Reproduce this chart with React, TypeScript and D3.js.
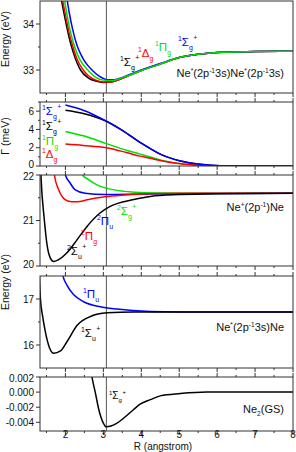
import React from 'react';
import * as d3 from 'd3';

const W = 296;
const H = 452;
const FONT = 'Liberation Sans, Arial, Helvetica, sans-serif';

const R_DOMAIN = [1.33, 8];
const R_TICKS = [2, 3, 4, 5, 6, 7, 8];
const R_MINOR = [1.5, 2.5, 3.5, 4.5, 5.5, 6.5, 7.5];
const R_EQ = 3.08;

// panel 1 : Ne*(2p-1 3s)Ne*(2p-1 3s) potentials (eV)
const p1Black = [[1.85, 34.75], [1.9, 34.5], [2.0, 34.08], [2.1, 33.7], [2.2, 33.4], [2.3, 33.17], [2.4, 33.0], [2.6, 32.83], [2.8, 32.76], [3.0, 32.73], [3.2, 32.74], [3.5, 32.82], [4.0, 32.99], [4.5, 33.13], [5.0, 33.27], [5.5, 33.34], [6.0, 33.38], [7.0, 33.4], [8.0, 33.41]];
const p1Red = [[1.88, 34.75], [1.93, 34.5], [2.0, 34.2], [2.1, 33.8], [2.2, 33.5], [2.3, 33.25], [2.47, 33.0], [2.6, 32.88], [2.8, 32.78], [3.0, 32.74], [3.2, 32.74], [3.5, 32.82], [4.0, 32.99], [4.5, 33.13], [5.0, 33.27], [5.5, 33.34], [6.0, 33.38], [7.0, 33.4], [8.0, 33.41]];
const p1Green = [[1.93, 34.75], [1.98, 34.5], [2.1, 33.95], [2.2, 33.62], [2.3, 33.37], [2.4, 33.2], [2.59, 33.0], [2.8, 32.84], [3.0, 32.78], [3.2, 32.77], [3.5, 32.83], [4.0, 32.99], [4.5, 33.13], [5.0, 33.27], [5.5, 33.34], [6.0, 33.38], [7.0, 33.4], [8.0, 33.41]];
const p1Blue = [[2.0, 34.75], [2.05, 34.5], [2.1, 34.25], [2.2, 33.85], [2.3, 33.55], [2.4, 33.35], [2.5, 33.2], [2.7, 33.0], [2.9, 32.86], [3.1, 32.79], [3.3, 32.79], [3.5, 32.84], [4.0, 33.0], [4.5, 33.14], [5.0, 33.27], [5.5, 33.34], [6.0, 33.38], [7.0, 33.4], [8.0, 33.41]];

// panel 2 : widths Gamma (meV)
const p2Blue = [[2.0, 6.67], [2.47, 6.1], [3.08, 4.9], [3.5, 3.9], [4.0, 2.5], [4.24, 1.9], [4.5, 1.3], [5.03, 0.55], [5.55, 0.19], [6.08, 0.03], [7.0, 0], [8.0, 0]];
const p2Black = [[2.0, 6.1], [2.47, 5.75], [3.08, 4.9], [3.5, 3.9], [4.0, 2.5], [4.24, 1.9], [4.5, 1.3], [5.03, 0.55], [5.55, 0.19], [6.08, 0.03], [7.0, 0], [8.0, 0]];
const p2Green = [[2.0, 3.78], [2.47, 3.3], [3.08, 2.45], [3.63, 1.7], [3.97, 1.3], [4.24, 0.98], [4.5, 0.65], [5.03, 0.26], [5.55, 0.08], [6.08, 0.01], [7.0, 0], [8.0, 0]];
const p2Red = [[2.0, 2.4], [2.47, 2.25], [3.08, 2.0], [3.63, 1.45], [3.97, 1.08], [4.24, 0.84], [4.5, 0.6], [5.03, 0.24], [5.55, 0.07], [6.08, 0.01], [7.0, 0], [8.0, 0]];

// panel 3 : Ne+(2p-1)Ne potentials (eV)
const p3Black = [[1.34, 22.3], [1.36, 21.9], [1.44, 21.05], [1.52, 20.44], [1.6, 20.18], [1.69, 20.1], [1.8, 20.13], [2.04, 20.29], [2.31, 20.58], [2.57, 20.87], [2.92, 21.17], [3.18, 21.31], [3.8, 21.46], [4.24, 21.53], [5.0, 21.57], [6.0, 21.59], [8.0, 21.6]];
const p3Red = [[1.68, 22.2], [1.71, 22.0], [1.82, 21.68], [1.99, 21.46], [2.17, 21.41], [2.31, 21.41], [2.61, 21.46], [3.04, 21.52], [3.57, 21.56], [4.18, 21.59], [5.0, 21.6], [8.0, 21.6]];
const p3Blue = [[1.97, 22.2], [2.0, 22.0], [2.12, 21.83], [2.25, 21.68], [2.52, 21.6], [3.04, 21.57], [4.0, 21.58], [5.0, 21.59], [8.0, 21.6]];
const p3Green = [[2.4, 22.2], [2.45, 22.0], [2.61, 21.9], [2.82, 21.79], [3.13, 21.7], [3.57, 21.64], [4.1, 21.61], [5.0, 21.6], [8.0, 21.6]];

// panel 4 : Ne*(2p-1 3s)Ne potentials (eV)
const p4Black = [[1.3, 17.8], [1.34, 17.02], [1.4, 16.62], [1.47, 16.29], [1.58, 15.94], [1.69, 15.82], [1.87, 15.87], [2.04, 16.07], [2.31, 16.43], [2.66, 16.62], [3.1, 16.7], [3.8, 16.72], [5.0, 16.72], [8.0, 16.72]];
const p4Blue = [[1.9, 17.65], [1.93, 17.52], [2.04, 17.3], [2.22, 17.09], [2.48, 16.94], [2.92, 16.83], [3.36, 16.78], [4.24, 16.73], [5.0, 16.72], [8.0, 16.72]];

// panel 5 : Ne2 ground state (eV)
const p5Black = [[2.68, 0.0026], [2.7, 0.002], [2.79, -0.0001], [2.88, -0.0023], [3.0, -0.0041], [3.08, -0.0046], [3.2, -0.0045], [3.36, -0.0041], [3.8, -0.0023], [3.97, -0.0016], [4.24, -0.001], [4.5, -0.0005], [5.03, -0.0002], [5.73, 0], [8.0, 0]];

const P1_TICKS = [33, 34];
const P2_TICKS = [0, 2, 4, 6];
const P3_TICKS = [20, 21, 22];
const P4_TICKS = [16, 17];
const P5_TICKS = [-0.004, -0.002, 0, 0.002];

const RED = '#ff0000';
const GREEN = '#00e000';
const BLUE = '#0000ff';
const BLACK = '#000000';

const x = d3.scaleLinear().domain(R_DOMAIN).range([40, 293]);

const panels = [
  { id: 'p1', top: 1, bottom: 93, domain: [32.5, 34.5], ticks: P1_TICKS, minor: [33.5], fmt: d3.format('d'), topTicks: false,
    curves: [[p1Black, BLACK], [p1Red, RED], [p1Blue, BLUE], [p1Green, GREEN]] },
  { id: 'p2', top: 102, bottom: 166, domain: [0, 7], ticks: P2_TICKS, minor: [1, 3, 5, 7], fmt: d3.format('d'), topTicks: true,
    curves: [[p2Black, BLACK], [p2Green, GREEN], [p2Red, RED], [p2Blue, BLUE]] },
  { id: 'p3', top: 175, bottom: 266, domain: [20, 22], ticks: P3_TICKS, minor: [20.5, 21.5], fmt: d3.format('d'), topTicks: true,
    curves: [[p3Green, GREEN], [p3Blue, BLUE], [p3Red, RED], [p3Black, BLACK]] },
  { id: 'p4', top: 276, bottom: 368, domain: [15.5, 17.5], ticks: P4_TICKS, minor: [16.5], fmt: d3.format('d'), topTicks: true,
    curves: [[p4Blue, BLUE], [p4Black, BLACK]] },
  { id: 'p5', top: 377, bottom: 431, domain: [-0.00515, 0.002], ticks: P5_TICKS, minor: [], fmt: (d: number) => d.toFixed(3), topTicks: true,
    curves: [[p5Black, BLACK]] },
];

function Panel({ p }: any) {
  const y = d3.scaleLinear().domain(p.domain).range([p.bottom, p.top]);
  const line = d3.line<number[]>().x(d => x(d[0])).y(d => y(d[1])).curve(d3.curveMonotoneX);
  const ax = '#333';
  // labels sitting on a panel edge are nudged inward a little
  const nudge = (t: number) => (t === p.domain[0] ? -1.5 : t === p.domain[1] ? 1.5 : 0);
  return (
    <g>
      <defs>
        <clipPath id={'clip-' + p.id}>
          <rect x={40} y={p.top} width={253} height={p.bottom - p.top} />
        </clipPath>
      </defs>
      <line x1={x(R_EQ)} x2={x(R_EQ)} y1={p.top} y2={p.bottom} stroke="#555" strokeWidth={1} />
      <g clipPath={`url(#clip-${p.id})`}>
        {p.curves.map((c: any, i: number) => (
          <path key={i} d={line(c[0]) || ''} fill="none" stroke={c[1]} strokeWidth={1.5} />
        ))}
      </g>
      <rect x={40} y={p.top} width={253} height={p.bottom - p.top} fill="none" stroke={ax} strokeWidth={1} />
      {R_TICKS.map(t => (
        <line key={'b' + t} x1={x(t)} x2={x(t)} y1={p.bottom} y2={p.bottom + 4} stroke={ax} />
      ))}
      {R_MINOR.map(t => (
        <line key={'bm' + t} x1={x(t)} x2={x(t)} y1={p.bottom} y2={p.bottom + 2} stroke={ax} />
      ))}
      {p.topTicks && R_TICKS.map(t => (
        <line key={'t' + t} x1={x(t)} x2={x(t)} y1={p.top} y2={p.top - 4} stroke={ax} />
      ))}
      {p.topTicks && R_MINOR.map(t => (
        <line key={'tm' + t} x1={x(t)} x2={x(t)} y1={p.top} y2={p.top - 2} stroke={ax} />
      ))}
      {p.ticks.map((t: number) => (
        <g key={'y' + t}>
          <line x1={36} x2={40} y1={y(t)} y2={y(t)} stroke={ax} />
          <text x={34} y={y(t) + nudge(t)} dy="0.35em" textAnchor="end" fontSize={10} fill="#111">{p.fmt(t)}</text>
        </g>
      ))}
      {p.minor.map((t: number) => (
        <line key={'ym' + t} x1={38} x2={40} y1={y(t)} y2={y(t)} stroke={ax} />
      ))}
    </g>
  );
}

function Term({ x: tx, y: ty, mult, sym, sub, plus, color, size = 11.5 }: any) {
  const s = size * 0.6;
  return (
    <text x={tx} y={ty} fill={color} fontSize={size}>
      <tspan fontSize={s} dy={-size * 0.45}>{mult}</tspan>
      <tspan dy={size * 0.45}>{sym}</tspan>
      <tspan fontSize={s} dy={size * 0.32}>{sub}</tspan>
      {plus ? <tspan fontSize={s} dx={size * 0.05} dy={-size * 0.8}>+</tspan> : null}
    </text>
  );
}

// parts: [text, 0 normal | 1 sup | -1 sub]
function Formula({ x: tx, y: ty, parts, size = 11 }: any) {
  let level = 0;
  const s = size * 0.6;
  return (
    <text x={tx} y={ty} textAnchor="end" fontSize={size} fill="#111">
      {parts.map((pt: any, i: number) => {
        const target = pt[1] === 1 ? -size * 0.4 : pt[1] === -1 ? size * 0.3 : 0;
        const dy = target - level;
        level = target;
        return (
          <tspan key={i} dy={dy} fontSize={pt[1] ? s : size}>{pt[0]}</tspan>
        );
      })}
    </text>
  );
}

export default function App() {
  return (
    <svg width={W} height={H} style={{ position: 'absolute', left: 0, top: 0, background: '#fff' }} fontFamily={FONT}>
      {panels.map(p => <Panel key={p.id} p={p} />)}

      {/* axis titles */}
      <text transform="translate(9,39) rotate(-90)" textAnchor="middle" fontSize={10.5} fill="#111">Energy (eV)</text>
      <text transform="translate(9,136) rotate(-90)" textAnchor="middle" fontSize={10.5} fill="#111">Γ (meV)</text>
      <text transform="translate(9,282) rotate(-90)" textAnchor="middle" fontSize={10.5} fill="#111">Energy (eV)</text>
      {R_TICKS.map(t => (
        <text key={t} x={x(t)} y={438} textAnchor="middle" fontSize={10} fill="#111">{t}</text>
      ))}
      <text x={163} y={450} textAnchor="middle" fontSize={10} fill="#111">R (angstrom)</text>

      {/* panel 1 labels */}
      <Term x={120} y={66} mult="1" sym="Σ" sub="g" plus color={BLACK} />
      <Term x={138} y={57} mult="1" sym="Δ" sub="g" color={RED} />
      <Term x={155} y={51} mult="1" sym="Π" sub="g" color={GREEN} />
      <Term x={178} y={46} mult="1" sym="Σ" sub="g" plus color={BLUE} />
      <Formula x={284} y={77} parts={[['Ne', 0], ['*', 1], ['(2p', 0], ['-1', 1], ['3s)Ne', 0], ['*', 1], ['(2p', 0], ['-1', 1], ['3s)', 0]]} />

      {/* panel 2 labels */}
      <Term x={42} y={115} mult="1" sym="Σ" sub="g" plus color={BLUE} />
      <Term x={42} y={130} mult="1" sym="Σ" sub="g" plus color={BLACK} />
      <Term x={42} y={145} mult="1" sym="Π" sub="g" color={GREEN} />
      <Term x={42} y={158} mult="1" sym="Δ" sub="g" color={RED} />

      {/* panel 3 labels */}
      <Term x={67} y={255} mult="2" sym="Σ" sub="u" plus color={BLACK} />
      <Term x={81} y={240} mult="2" sym="Π" sub="g" color={RED} />
      <Term x={97} y={225} mult="2" sym="Π" sub="u" color={BLUE} />
      <Term x={117} y={215} mult="2" sym="Σ" sub="g" plus color={GREEN} />
      <Formula x={284} y={211} parts={[['Ne', 0], ['+', 1], ['(2p', 0], ['-1', 1], [')Ne', 0]]} />

      {/* panel 4 labels */}
      <Term x={83} y={298} mult="1" sym="Π" sub="u" color={BLUE} />
      <Term x={81} y={337} mult="1" sym="Σ" sub="u" plus color={BLACK} />
      <Formula x={284} y={331} parts={[['Ne', 0], ['*', 1], ['(2p', 0], ['-1', 1], ['3s)Ne', 0]]} />

      {/* panel 5 labels */}
      <Term x={109} y={399} mult="1" sym="Σ" sub="g" plus color={BLACK} size={10} />
      <Formula x={284} y={413} parts={[['Ne', 0], ['2', -1], ['(GS)', 0]]} />
    </svg>
  );
}
